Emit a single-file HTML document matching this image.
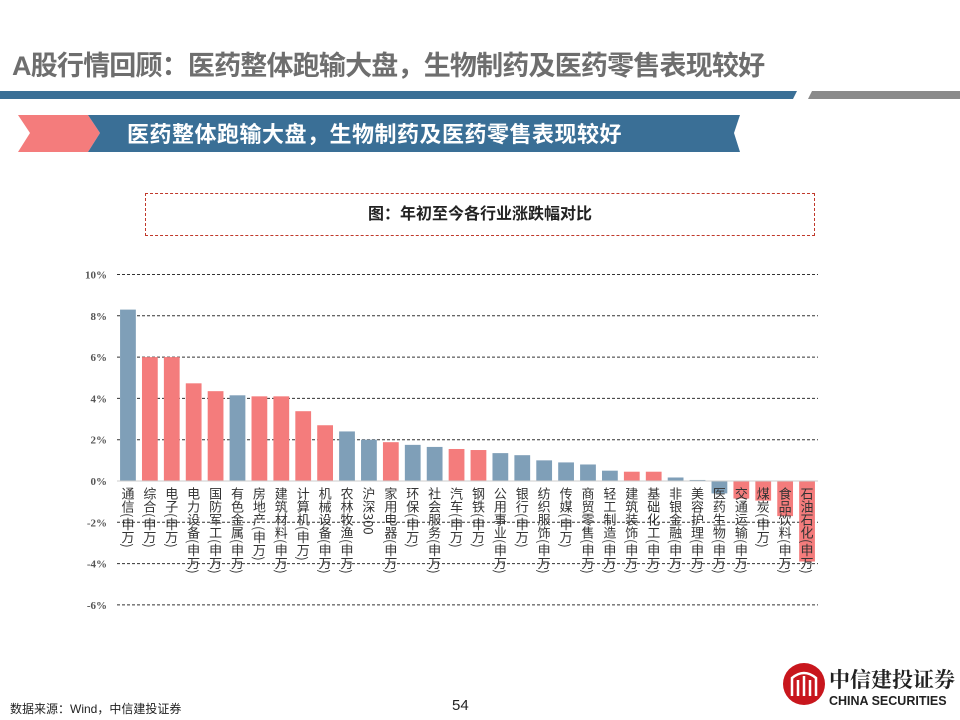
<!DOCTYPE html>
<html><head><meta charset="utf-8"><style>
body{margin:0;width:960px;height:720px;background:#fff;position:relative;overflow:hidden;font-family:"Liberation Sans","Noto Sans CJK SC",sans-serif}
.abs{position:absolute;white-space:nowrap}
</style></head><body>
<div class="abs" style="left:12px;top:44px;font-size:27px;font-weight:bold;color:#6e6e6e;letter-spacing:-0.8px">A股行情回顾：医药整体跑输大盘，生物制药及医药零售表现较好</div>
<svg class="abs" style="left:0;top:0" width="960" height="170">
<polygon points="0,91 797,91 793,99 0,99" fill="#3a6f96"/>
<polygon points="812,91 960,91 960,99 808,99" fill="#8a8a8a"/>
<polygon points="18,115 88,115 100,133 88,152 18,152 30,133" fill="#f47c7c"/>
<polygon points="88,115 740,115 734,133 740,152 88,152 100,133" fill="#3a6f96"/>
<text x="127" y="142" font-size="22" font-weight="bold" fill="#fff" letter-spacing="0.5" font-family="Liberation Sans, Noto Sans CJK SC, sans-serif">医药整体跑输大盘，生物制药及医药零售表现较好</text>
</svg>
<div class="abs" style="left:145px;top:193px;width:668px;height:41px;border:1.5px dashed #c0392b;text-align:center;line-height:41px;font-size:16px;font-weight:bold;color:#222">图：年初至今各行业涨跌幅对比</div>
<svg id="chart" class="abs" style="left:0;top:0" width="960" height="720"></svg>
<div class="abs" style="left:10px;top:700px;font-size:12px;color:#222">数据来源：Wind，中信建投证券</div>
<div class="abs" style="left:452px;top:697px;font-size:15px;color:#222">54</div>
<svg class="abs" style="left:782px;top:662px" width="44" height="44">
<circle cx="22" cy="22" r="21" fill="#c8161d"/>
<path d="M10 34 V16 Q22 6 34 16 V34 M16 34 V18 M28 34 V18 M22 34 V14" stroke="#fff" stroke-width="2.5" fill="none"/>
</svg>
<div class="abs" style="left:829px;top:664px;font-size:21px;font-weight:bold;color:#222;font-family:'Noto Serif CJK SC',serif">中信建投证券</div>
<div class="abs" style="left:829px;top:694px;font-size:12.5px;font-weight:bold;color:#222">CHINA SECURITIES</div>
<script>
const categories=["通信(申万)","综合(申万)","电子(申万)","电力设备(申万)","国防军工(申万)","有色金属(申万)","房地产(申万)","建筑材料(申万)","计算机(申万)","机械设备(申万)","农林牧渔(申万)","沪深300","家用电器(申万)","环保(申万)","社会服务(申万)","汽车(申万)","钢铁(申万)","公用事业(申万)","银行(申万)","纺织服饰(申万)","传媒(申万)","商贸零售(申万)","轻工制造(申万)","建筑装饰(申万)","基础化工(申万)","非银金融(申万)","美容护理(申万)","医药生物(申万)","交通运输(申万)","煤炭(申万)","食品饮料(申万)","石油石化(申万)"];
const values=[8.3,6.0,6.0,4.73,4.35,4.15,4.1,4.1,3.38,2.7,2.4,2.0,1.88,1.75,1.65,1.55,1.5,1.35,1.25,1.0,0.9,0.8,0.5,0.45,0.45,0.17,0.05,-0.6,-0.85,-0.95,-1.7,-3.9];
const colorGroup=["b","r","r","r","r","b","r","r","r","r","b","b","r","b","b","r","r","b","b","b","b","b","b","r","r","b","b","b","r","r","r","r"];
const ticks=[10,8,6,4,2,0,-2,-4,-6];
const tickLabels=["10%","8%","6%","4%","2%","0%","-2%","-4%","-6%"];
const NS="http://www.w3.org/2000/svg";
const svg=document.getElementById('chart');
const y0=481, pxPer=20.65, xStart=117, xEnd=818;
const y=v=>y0-v*pxPer;
const n=categories.length, step=(xEnd-xStart)/n;
const x=i=>xStart+step*i+step/2;
function mk(t,a){const e=document.createElementNS(NS,t);for(const k in a)e.setAttribute(k,a[k]);svg.appendChild(e);return e;}
ticks.forEach((t,i)=>{
 if(t!==0){const l=mk('line',{x1:xStart,x2:xEnd,y1:y(t),y2:y(t),stroke:'#333','stroke-dasharray':'3,2','stroke-width':1});
 
 }
 const tx=mk('text',{x:107,y:y(t)+4,'text-anchor':'end','font-size':11,'font-weight':'bold',fill:'#555','font-family':'Liberation Serif, serif'});
 tx.textContent=tickLabels[i];
 
 
});
values.forEach((v,i)=>{
 const w=step*0.72, top=Math.min(y(v),y0), h=Math.abs(y(v)-y0);
 const r=mk('rect',{x:x(i)-w/2,y:top,width:w,height:h,fill:colorGroup[i]==='b'?'#7f9fb8':'#f47c7c'});
 
 
});
const ax=mk('line',{x1:xStart,x2:xEnd,y1:y0,y2:y0,stroke:'#ccc','stroke-width':1});


categories.forEach((c,i)=>{
 const t=mk('text',{x:x(i),y:487,'font-size':13,fill:'#333','writing-mode':'tb','glyph-orientation-vertical':0,'font-family':'Noto Sans CJK SC, sans-serif'});
 t.textContent=c;
 
 
});
</script>
</body></html>
